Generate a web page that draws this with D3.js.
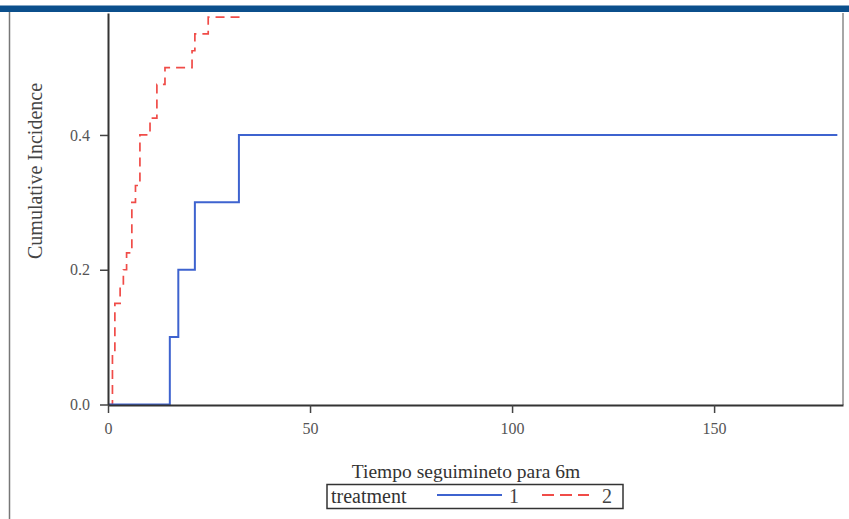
<!DOCTYPE html>
<html>
<head>
<meta charset="utf-8">
<script src="https://cdn.jsdelivr.net/npm/d3@7"></script>
<style>
	body { margin: 0; background: #fff; }
	svg { display: block; }
</style>
</head>
<body>
<script>
// step data (time in days, cumulative incidence)
const blue_times = [0, 15.3, 17.4, 21.5, 32.4, 180.5];
const blue_values = [0, 0.1, 0.2, 0.3, 0.4, 0.4];
const red_times = [0, 1.1, 1.7, 3.0, 3.8, 4.6, 5.9, 6.8, 7.9, 10.4, 12.1, 14.1, 20.8, 21.5, 24.8, 33.4];
const red_values = [0, 0.075, 0.15, 0.175, 0.2, 0.225, 0.3, 0.325, 0.4, 0.425, 0.475, 0.5, 0.525, 0.55, 0.575, 0.575];
const x_ticks = [0, 50, 100, 150];
const y_ticks = [0.0, 0.2, 0.4];
const legend_labels = ['1', '2'];

const width = 849, height = 519;
const serif = '"Liberation Serif", "DejaVu Serif", serif';

var svg = d3.select('body').append('svg')
	.attr('width', width)
	.attr('height', height);

// scanned page bits: blue header band and left page rule
svg.append('rect')
	.attr('x', 0).attr('y', 5.5)
	.attr('width', width).attr('height', 6.5)
	.attr('fill', '#0b4f8c');
svg.append('line')
	.attr('x1', 9.5).attr('x2', 9.5)
	.attr('y1', 12).attr('y2', height)
	.attr('stroke', '#777').attr('stroke-width', 1.5);

var x = d3.scaleLinear()
	.domain([0, 181.9])
	.range([108, 843]);
var y = d3.scaleLinear()
	.domain([0, 0.581])
	.range([404.5, 13]);

// right frame
svg.append('line')
	.attr('x1', 843).attr('x2', 843)
	.attr('y1', 13).attr('y2', 405)
	.attr('stroke', '#888').attr('stroke-width', 1.5);

function make_line(times, values)
{
	return d3.line()
		.x(function(d) { return x(times[d]); })
		.y(function(d) { return y(values[d]); })
		.curve(d3.curveStepAfter)(d3.range(times.length));
}

svg.append('path')
	.attr('d', make_line(red_times, red_values))
	.attr('fill', 'none')
	.attr('stroke', '#f04c48')
	.attr('stroke-width', 1.7)
	.attr('stroke-dasharray', '9,6');

svg.append('path')
	.attr('d', make_line(blue_times, blue_values))
	.attr('fill', 'none')
	.attr('stroke', '#3e63cf')
	.attr('stroke-width', 2);

// axes
var x_axis = svg.append('g')
	.attr('transform', 'translate(0,405)')
	.call(d3.axisBottom(x).tickValues(x_ticks).tickSize(8).tickPadding(10).tickSizeOuter(0));
var y_axis = svg.append('g')
	.attr('transform', 'translate(108,0)')
	.call(d3.axisLeft(y).tickValues(y_ticks).tickFormat(d3.format('.1f')).tickSize(8).tickPadding(10).tickSizeOuter(0));

[x_axis, y_axis].forEach(function(g)
{
	g.select('.domain').attr('stroke', '#333').attr('stroke-width', 2);
	g.selectAll('.tick line').attr('stroke', '#444').attr('stroke-width', 1.5);
	g.selectAll('.tick text')
		.attr('fill', '#555')
		.style('font-family', serif)
		.style('font-size', '16px');
});

// titles
svg.append('text')
	.attr('transform', 'translate(42,171) rotate(-90)')
	.attr('text-anchor', 'middle')
	.attr('fill', '#444')
	.style('font-family', serif)
	.style('font-size', '20px')
	.text('Cumulative Incidence');

svg.append('text')
	.attr('x', 466).attr('y', 478)
	.attr('text-anchor', 'middle')
	.attr('fill', '#333')
	.style('font-family', serif)
	.style('font-size', '19.5px')
	.text('Tiempo seguimineto para 6m');

// legend
var legend = svg.append('g');
legend.append('rect')
	.attr('x', 327).attr('y', 484.5)
	.attr('width', 296).attr('height', 24)
	.attr('fill', 'none')
	.attr('stroke', '#333').attr('stroke-width', 1.5);
legend.append('text')
	.attr('x', 331).attr('y', 503)
	.attr('fill', '#333')
	.style('font-family', serif)
	.style('font-size', '20px')
	.text('treatment');
legend.append('line')
	.attr('x1', 437).attr('x2', 502).attr('y1', 495).attr('y2', 495)
	.attr('stroke', '#3e63cf').attr('stroke-width', 2);
legend.append('line')
	.attr('x1', 542).attr('x2', 589).attr('y1', 495).attr('y2', 495)
	.attr('stroke', '#f04c48').attr('stroke-width', 2)
	.attr('stroke-dasharray', '12,6');
legend.selectAll('text.lab')
	.data(legend_labels)
	.enter()
	.append('text')
		.attr('class', 'lab')
		.attr('x', function(d, i) { return i == 0 ? 509 : 602; })
		.attr('y', 503)
		.attr('fill', '#444')
		.style('font-family', serif)
		.style('font-size', '20px')
		.text(function(d) { return d; });
</script>
</body>
</html>
